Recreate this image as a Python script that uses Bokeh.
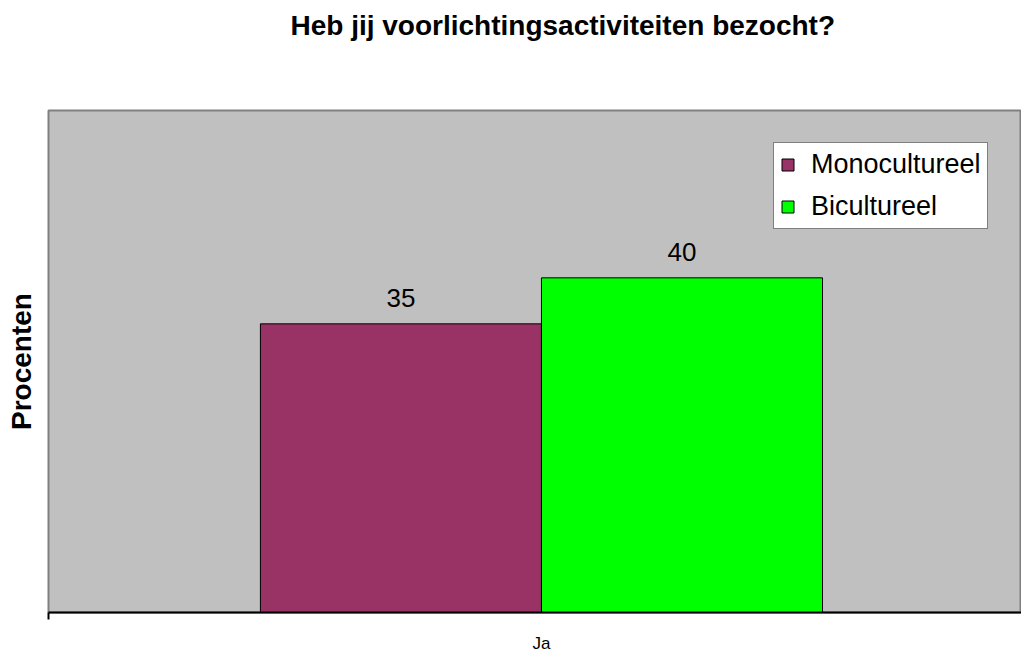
from bokeh.plotting import figure
from bokeh.models import Range1d, ColumnDataSource, FixedTicker, LabelSet, Legend, LegendItem, Title
from bokeh.transform import dodge
from bokeh.core.properties import value
from bokeh.embed import file_html
from bokeh.resources import INLINE
import numpy as np

# ---- data ----
categories = ["Ja"]
series_names = ["Monocultureel", "Bicultureel"]
monocultureel = [34.5]
bicultureel = [40.0]
value_labels_mono = ["35"]
value_labels_bi = ["40"]
colors = ["#993366", "#00FF00"]
title_text = "Heb jij voorlichtingsactiviteiten bezocht?"
y_label = "Procenten"

FONT = "Liberation Sans"

xs = np.arange(len(categories))
src_mono = ColumnDataSource(dict(x=xs, v=monocultureel, lab=value_labels_mono))
src_bi = ColumnDataSource(dict(x=xs, v=bicultureel, lab=value_labels_bi))

x_range = Range1d(-0.877, 0.854)
p = figure(width=1021, height=655, x_range=x_range, y_range=Range1d(0, 60),
           output_backend="svg", toolbar_location=None,
           min_border_left=48, min_border_right=0, min_border_top=108, min_border_bottom=42)

p.background_fill_color = "#C0C0C0"
p.border_fill_color = "white"
p.outline_line_color = "#808080"
p.outline_line_width = 2
p.xgrid.grid_line_color = None
p.ygrid.grid_line_color = None

bw = 0.5
r1 = p.vbar(x=dodge("x", -bw / 2, range=x_range), top="v", width=bw, source=src_mono,
            fill_color=colors[0], line_color="black", line_width=1)
r2 = p.vbar(x=dodge("x", bw / 2, range=x_range), top="v", width=bw, source=src_bi,
            fill_color=colors[1], line_color="black", line_width=1)

for src, off in ((src_mono, -bw / 2), (src_bi, bw / 2)):
    ls = LabelSet(x=dodge("x", off, range=x_range), y="v", text="lab", source=src,
                  text_align="center", text_baseline="alphabetic", y_offset=17,
                  text_font=value(FONT), text_font_size="26px", text_color="black")
    p.add_layout(ls)

# spacer between frame and title
spacer = Title(text=" ", text_font_size="10px", standoff=50)
p.add_layout(spacer, "above")

# title
p.title.text = title_text
p.title.text_font = FONT
p.title.text_font_style = "bold"
p.title.text_font_size = "28px"
p.title.text_color = "black"
p.title.align = "left"
p.title.offset = 242
p.title.standoff = 14

# x axis
p.xaxis.ticker = FixedTicker(ticks=list(xs), minor_ticks=[x_range.start])
p.xaxis.major_label_overrides = {int(i): c for i, c in zip(xs, categories)}
p.xaxis.axis_line_color = "black"
p.xaxis.axis_line_width = 2
p.xaxis.major_tick_out = 0
p.xaxis.major_tick_in = 0
p.xaxis.minor_tick_out = 7
p.xaxis.minor_tick_in = 0
p.xaxis.minor_tick_line_color = "black"
p.xaxis.minor_tick_line_width = 2
p.xaxis.major_label_text_font = FONT
p.xaxis.major_label_text_font_size = "17px"
p.xaxis.major_label_text_color = "black"
p.xaxis.major_label_standoff = 14

# y axis
p.yaxis.ticker = FixedTicker(ticks=[])
p.yaxis.axis_line_color = None
p.yaxis.major_tick_line_color = None
p.yaxis.minor_tick_line_color = None
p.yaxis.major_tick_out = 0
p.yaxis.axis_label = y_label
p.yaxis.axis_label_text_font = FONT
p.yaxis.axis_label_text_font_style = "bold"
p.yaxis.axis_label_text_font_size = "28px"
p.yaxis.axis_label_text_color = "black"
p.yaxis.axis_label_standoff = 12

legend = Legend(items=[LegendItem(label=series_names[0], renderers=[r1]),
                       LegendItem(label=series_names[1], renderers=[r2])],
                location=(725, 383))
legend.label_text_font = FONT
legend.label_text_font_size = "27px"
legend.label_text_color = "black"
legend.glyph_width = 15
legend.glyph_height = 15
legend.label_height = 31
legend.label_standoff = 16
legend.spacing = 11
legend.padding = 6
legend.margin = 0
legend.border_line_color = "black"
legend.border_line_width = 1
legend.background_fill_color = "white"
legend.background_fill_alpha = 1
p.add_layout(legend, "center")

open("out.html", "w").write(file_html(p, INLINE))
